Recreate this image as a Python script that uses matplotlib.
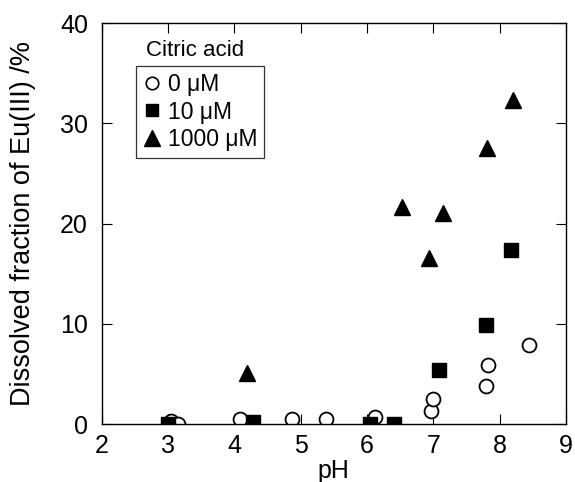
import matplotlib
matplotlib.use("Agg")
import matplotlib.pyplot as plt
from matplotlib.lines import Line2D

plt.rcParams["font.family"] = ["Liberation Sans", "DejaVu Sans"]

# ── Data ─────────────────────────────────────────────────────────────────────
ph_0uM   = [3.04, 3.15, 4.09, 4.87, 5.39, 6.12, 6.96, 7.00, 7.80, 7.82, 8.44]
frac_0uM = [0.3, 0.0, 0.5, 0.5, 0.5, 0.7, 1.3, 2.5, 3.8, 5.9, 7.9]

ph_10uM   = [3.00, 4.28, 6.04, 6.41, 7.09, 7.80, 8.17]
frac_10uM = [0.0, 0.2, 0.0, 0.0, 5.4, 9.9, 17.4]

ph_1000uM   = [4.19, 6.53, 6.93, 7.14, 7.81, 8.20]
frac_1000uM = [5.1, 21.7, 16.6, 21.1, 27.5, 32.3]

labels = ["0 \u03bcM", "10 \u03bcM", "1000 \u03bcM"]

# ── Plot ─────────────────────────────────────────────────────────────────────
fig = plt.figure(figsize=(5.75, 4.82), dpi=100)
ax = fig.add_axes([0.177, 0.12, 0.807, 0.832])

ax.plot(ph_0uM, frac_0uM, "o", ms=10, mfc="white", mec="black", mew=1.3)
ax.plot(ph_10uM, frac_10uM, "s", ms=9.5, mfc="black", mec="black")
ax.plot(ph_1000uM, frac_1000uM, "^", ms=11.5, mfc="black", mec="black")

ax.set_xlim(2, 9)
ax.set_ylim(0, 40)
ax.set_xticks(range(2, 10))
ax.set_yticks(range(0, 41, 10))
ax.tick_params(direction="in", length=7, width=0.8, top=True, right=True,
               labelsize=18)
ax.tick_params(axis="x", pad=7)
ax.tick_params(axis="y", pad=10)
for sp in ax.spines.values():
    sp.set_linewidth(1.0)

ax.set_xlabel("pH", fontsize=18, labelpad=1)
ax.set_ylabel("Dissolved fraction of Eu(III) /%", fontsize=19.5, labelpad=17)

handles = [
    Line2D([], [], ls="", marker="o", ms=9, mfc="white", mec="black", mew=1.2),
    Line2D([], [], ls="", marker="s", ms=9, mfc="black", mec="black"),
    Line2D([], [], ls="", marker="^", ms=11, mfc="black", mec="black"),
]
leg = ax.legend(handles, labels, loc="upper left", bbox_to_anchor=(0.073, 0.893),
                fontsize=16.5, frameon=True, fancybox=False, edgecolor="black",
                handlelength=0.8, handletextpad=0.3, borderpad=0.3,
                labelspacing=0.2, borderaxespad=0)
leg.get_frame().set_linewidth(0.9)
ax.text(0.095, 0.905, "Citric acid", transform=ax.transAxes, fontsize=16,
        ha="left", va="bottom")

fig.savefig("out.png", dpi=100)
